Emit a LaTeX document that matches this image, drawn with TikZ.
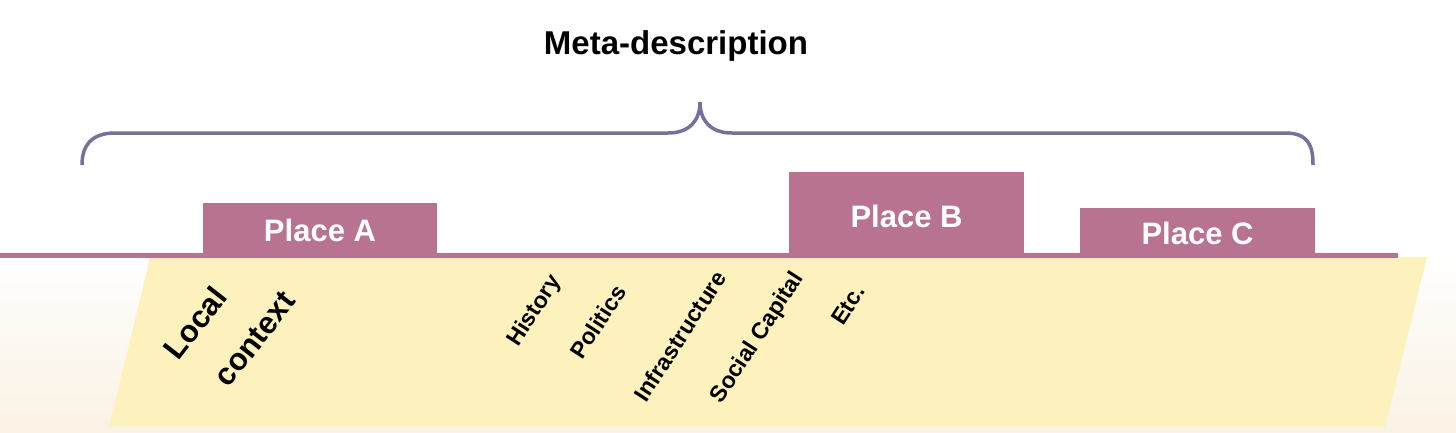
\documentclass[tikz,border=0pt]{standalone}
\usepackage{fontspec}
\setmainfont{Liberation Sans}
\definecolor{mauve}{HTML}{B87390}
\definecolor{bracec}{HTML}{76709A}
\definecolor{paper}{HTML}{FDF1BE}
\definecolor{cream}{HTML}{FAF2E4}
\begin{document}
\begin{tikzpicture}[x=1pt,y=-1pt,
  placetxt/.style={text=white,font=\bfseries\fontsize{31}{36}\selectfont,inner sep=0pt},
  factor/.style={font=\bfseries\fontsize{23}{26}\selectfont,rotate=57,inner sep=0pt},
  localtxt/.style={font=\bfseries\fontsize{31}{36}\selectfont,rotate=52,inner sep=0pt}]
\useasboundingbox (0,0) rectangle (1456,432);
% background gradient
\shade[top color=white,bottom color=cream,draw=none] (0,250) rectangle (1456,432);
% yellow parallelogram
\fill[paper] (150,258) -- (1427,257) -- (1385,427) -- (109,427) -- cycle;
% baseline
\coordinate (lineL) at (0,255.5);
\coordinate (lineR) at (1398,255.5);
\draw[mauve,line width=5pt] (lineL) -- (lineR);
% places
\fill[mauve] (203,203) rectangle (437,256);
\node[placetxt] (pA) at (320,230) {Place A};
\fill[mauve] (789,172) rectangle (1024,256);
\node[placetxt] (pB) at (906.5,216) {Place B};
\fill[mauve] (1080,208) rectangle (1315,256);
\node[placetxt] (pC) at (1197.5,233) {Place C};
% brace
\draw[bracec,line width=3.5pt] (82,165) .. controls (82,145) and (92,133) .. (115,133)
  -- (668,133) .. controls (690,133) and (700,120) .. (700,102)
  .. controls (700,120) and (710,133) .. (732,133)
  -- (1285,133) .. controls (1308,133) and (1313,145) .. (1313,165);
\node[font=\bfseries\fontsize{33}{38}\selectfont] (meta) at (676,46) {Meta-description};
% local context
\node[localtxt] (local) at (195,323) {Local};
\node[localtxt] (context) at (255,339) {context};
% factors
\node[factor] (hist) at (535,311) {History};
\node[factor] (pol) at (598,322) {Politics};
\node[factor] (infra) at (680,336) {Infrastructure};
\node[factor] (soc) at (758,338) {Social Capital};
\node[factor] (etc) at (848,305) {Etc.};
\end{tikzpicture}
\end{document}
